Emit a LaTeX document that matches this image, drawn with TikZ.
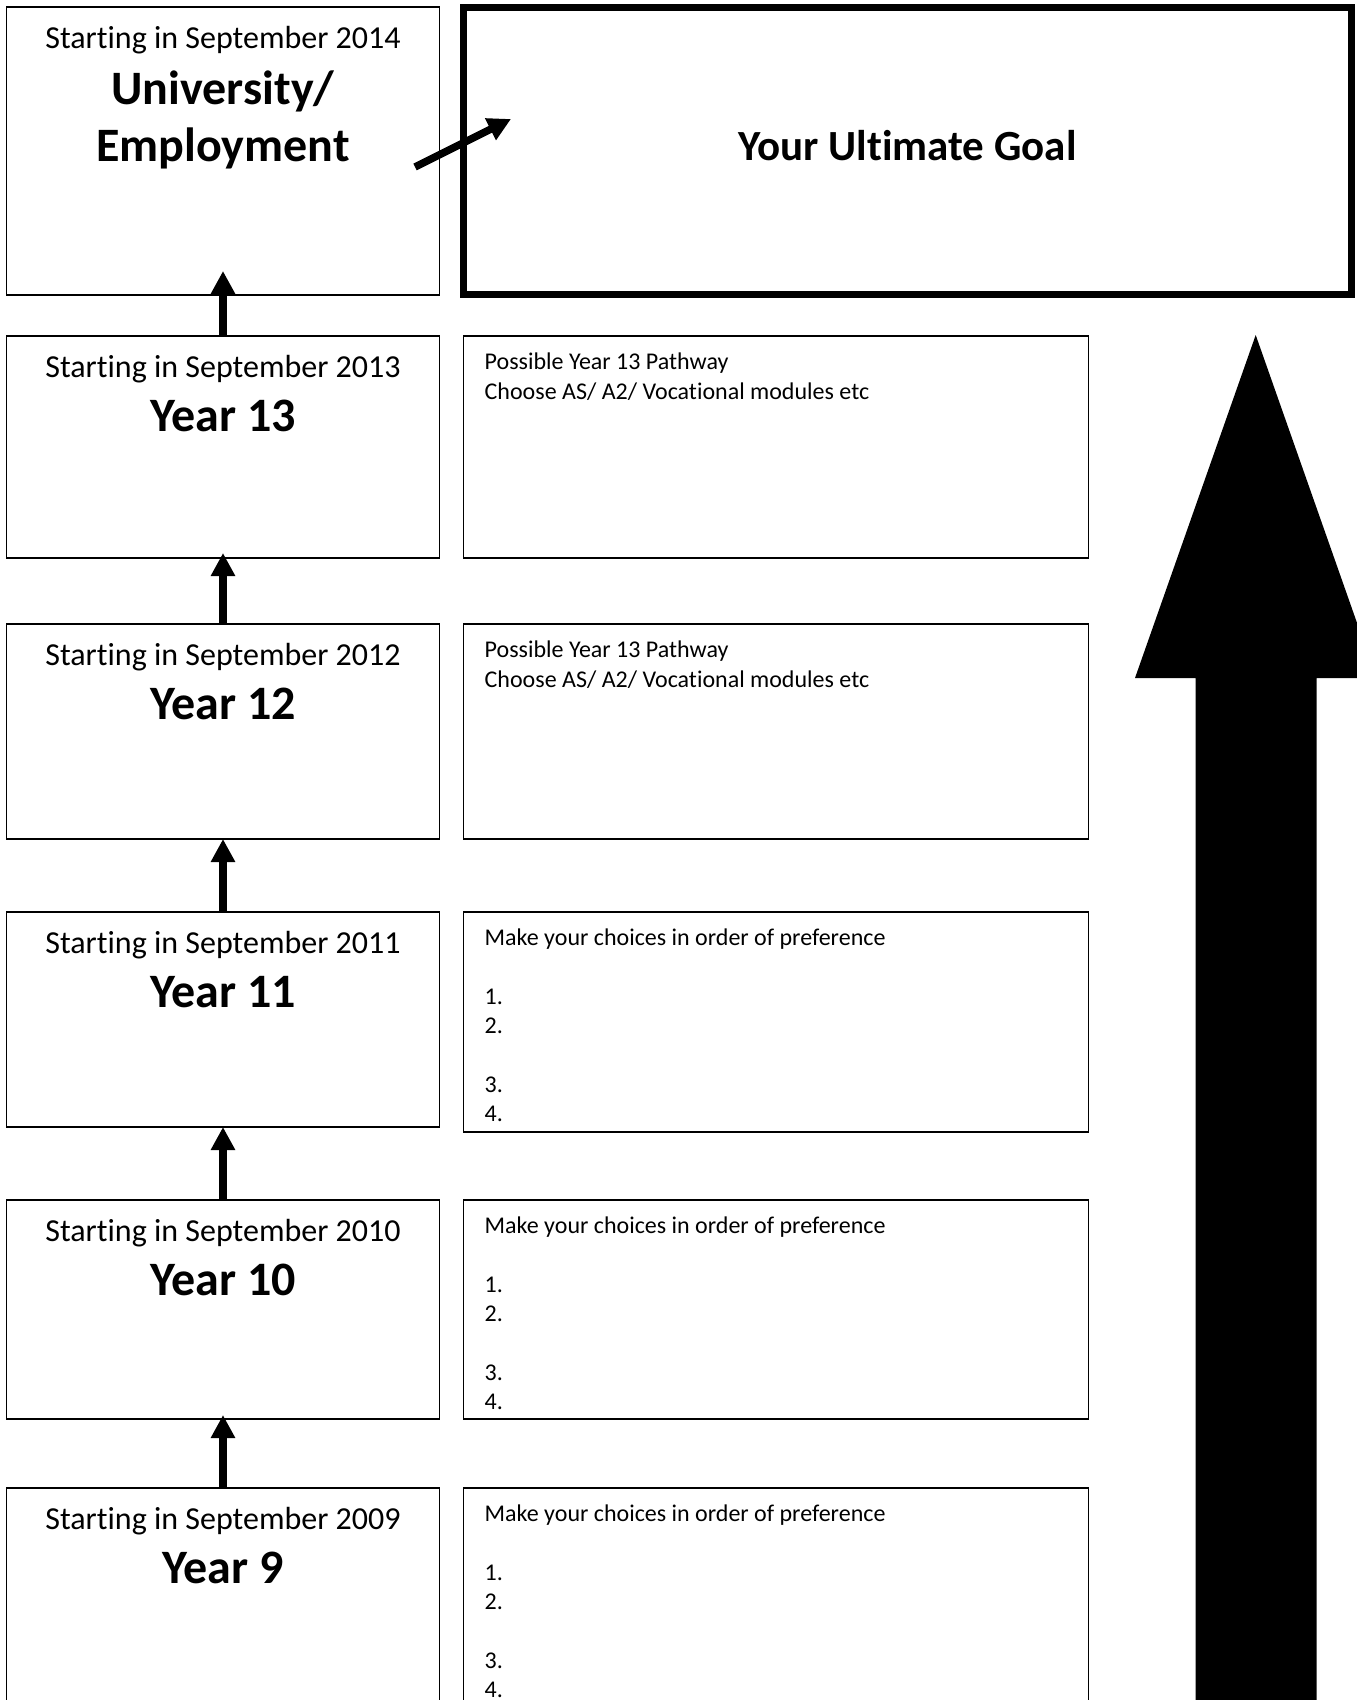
\documentclass[tikz,border=0pt]{standalone}
\usepackage{fontspec}
\setmainfont{Carlito}[Ligatures=NoCommon]
\usetikzlibrary{positioning, arrows.meta}
\tikzstyle{yearbox} = [rectangle, draw=black, line width=1.6pt, minimum width=433pt, inner sep=0pt, outer sep=0pt]
\tikzstyle{notebox} = [rectangle, draw=black, line width=1.6pt, minimum width=625pt, inner sep=0pt, outer sep=0pt]
\tikzstyle{goalbox} = [rectangle, draw=black, line width=7.5pt, minimum width=888pt, minimum height=287pt, inner sep=0pt, outer sep=0pt]
\tikzstyle{start} = [anchor=base, font=\fontsize{32}{38}\selectfont]
\tikzstyle{year} = [anchor=base, font=\fontsize{48}{56}\selectfont\bfseries]
\tikzstyle{goaltext} = [font=\fontsize{43}{50}\selectfont\bfseries]
\tikzstyle{note} = [anchor=north west, align=left, inner sep=0pt, xshift=21pt, yshift=-17pt, font=\fontsize{24}{29.3}\selectfont]
\tikzstyle{arrow} = [line width=7.5pt, -{Triangle[length=23pt, width=23pt]}]

\begin{document}
\begin{tikzpicture}[x=1pt, y=1pt]
  \useasboundingbox (0,0) rectangle (1357,-1700);
  \clip (0,0) rectangle (1357,-1700);
  % boxes on the left
  \node (uni) [yearbox, minimum height=288pt] at (223,-151) {};
  \node (y13) [yearbox, minimum height=222pt, below=41pt of uni] {};
  \node (y12) [yearbox, minimum height=215pt, below=66pt of y13] {};
  \node (y11) [yearbox, minimum height=215pt, below=73pt of y12] {};
  \node (y10) [yearbox, minimum height=219pt, below=73pt of y11] {};
  \node (y9) [yearbox, minimum height=260pt, below=69pt of y10] {};

  % boxes on the right
  \node (goal) [goalbox, right=24pt of uni] {};
  \node (r13) [notebox, minimum height=222pt, below right=0pt and 24pt of y13.north east] {};
  \node (r12) [notebox, minimum height=215pt, below right=0pt and 24pt of y12.north east] {};
  \node (r11) [notebox, minimum height=220pt, below right=0pt and 24pt of y11.north east] {};
  \node (r10) [notebox, minimum height=219pt, below right=0pt and 24pt of y10.north east] {};
  \node (r9) [notebox, minimum height=260pt, below right=0pt and 24pt of y9.north east] {};

  % texts
  \node (s14) [start, yshift=-41pt] at (uni.north) {Starting in September 2014};
  \node (t14a) [year, yshift=-97pt] at (uni.north) {University/};
  \node (t14b) [year, yshift=-154pt] at (uni.north) {Employment};
  \node (s13) [start, yshift=-41pt] at (y13.north) {Starting in September 2013};
  \node (t13) [year, yshift=-95pt] at (y13.north) {Year 13};
  \node (s12) [start, yshift=-41pt] at (y12.north) {Starting in September 2012};
  \node (t12) [year, yshift=-95pt] at (y12.north) {Year 12};
  \node (s11) [start, yshift=-41pt] at (y11.north) {Starting in September 2011};
  \node (t11) [year, yshift=-95pt] at (y11.north) {Year 11};
  \node (s10) [start, yshift=-41pt] at (y10.north) {Starting in September 2010};
  \node (t10) [year, yshift=-95pt] at (y10.north) {Year 10};
  \node (s9) [start, yshift=-41pt] at (y9.north) {Starting in September 2009};
  \node (t9) [year, yshift=-95pt] at (y9.north) {Year 9};

  \node (gt) [goaltext, yshift=5pt] at (goal) {Your Ultimate Goal};
  \node (n13) [note] at (r13.north west) {Possible Year 13 Pathway\\Choose AS/ A2/ Vocational modules etc};
  \node (n12) [note] at (r12.north west) {Possible Year 13 Pathway\\Choose AS/ A2/ Vocational modules etc};
  \node (n11) [note] at (r11.north west) {Make your choices in order of preference\\[29.3pt]1.\\2.\\[29.3pt]3.\\4.};
  \node (n10) [note] at (r10.north west) {Make your choices in order of preference\\[29.3pt]1.\\2.\\[29.3pt]3.\\4.};
  \node (n9) [note] at (r9.north west) {Make your choices in order of preference\\[29.3pt]1.\\2.\\[29.3pt]3.\\4.};

  % arrows
  \draw [arrow] (y13.north) -- ([yshift=24pt]uni.south);
  \draw [arrow] (y12.north) -- ([yshift=5pt]y13.south);
  \draw [arrow] (y11.north) -- (y12.south);
  \draw [arrow] (y10.north) -- (y11.south);
  \draw [arrow] (y9.north) -- ([yshift=4pt]y10.south);

  \coordinate (a1) at (415,-167);
  \coordinate (a2) at (511,-119);
  \draw [arrow] (a1) -- (a2);

  % big arrow
  \fill (1195.5,-1720) -- (1195.5,-678) -- (1135,-678) -- (1255.7,-335) -- (1376.4,-678) -- (1316.7,-678) -- (1316.7,-1720) -- cycle;
\end{tikzpicture}
\end{document}
